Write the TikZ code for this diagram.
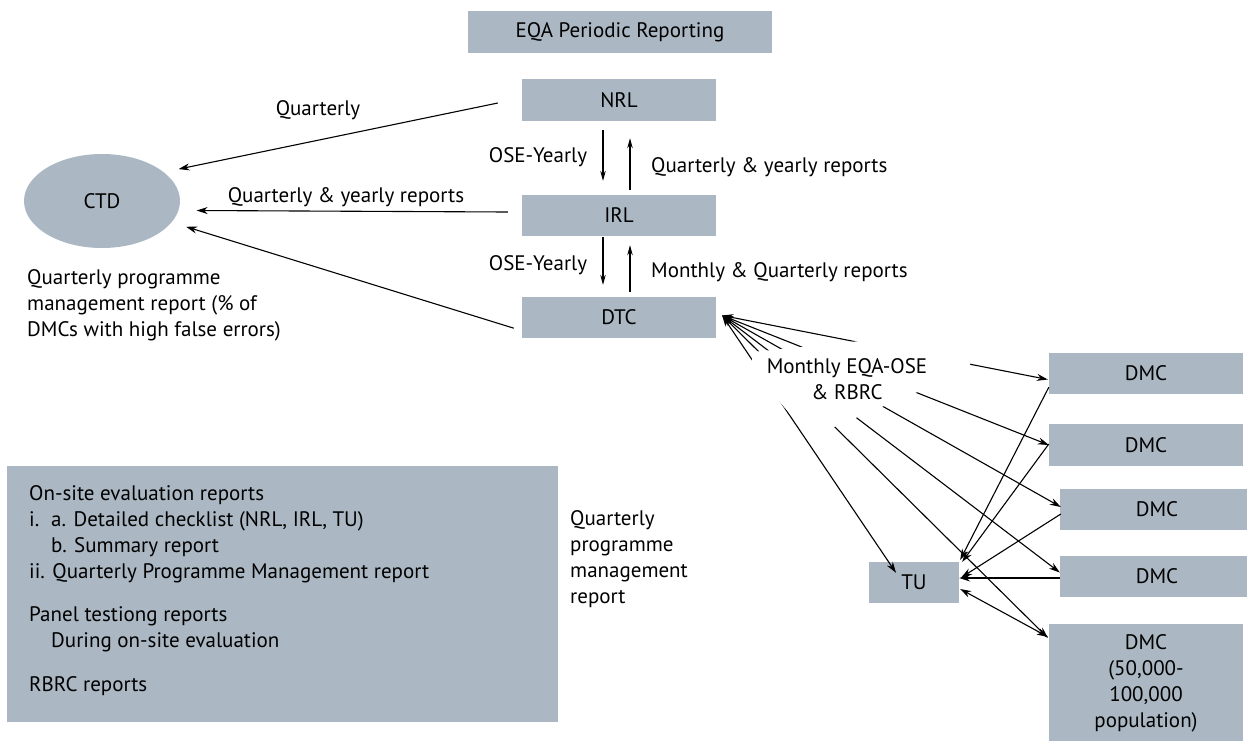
\documentclass[tikz,border=0pt]{standalone}
\usepackage{fontspec}
\setmainfont{PT Sans}
\usetikzlibrary{calc,shapes.geometric,arrows.meta}
\definecolor{boxfill}{RGB}{171,184,195}
\begin{document}
\begin{tikzpicture}[x=1pt,y=-1pt,
  every node/.style={font=\fontsize{21}{26}\selectfont},
  unit/.style={fill=boxfill, minimum width=194pt, minimum height=41pt, inner sep=0pt},
  conn/.style={line width=1.1pt, -{Stealth[length=11pt,width=7pt]}},
  both/.style={line width=1.1pt, {Stealth[length=11pt,width=7pt]}-{Stealth[length=11pt,width=7pt]}},
  small/.style={line width=1.1pt, -{Stealth[length=10pt,width=5.5pt]}},
  lbl/.style={inner sep=0pt}]
\useasboundingbox (0,0) rectangle (1247,740);

% reporting levels
\node[unit, minimum width=304pt, minimum height=42pt] (eqa) at (620,32) {EQA Periodic Reporting};
\node[unit, minimum height=42pt] (nrl) at (619,100) {NRL};
\node[unit] (irl) at (619,215.5) {IRL};
\node[unit] (dtc) at (619,317.5) {DTC};
\node[ellipse, fill=boxfill, minimum width=156pt, minimum height=94pt, inner sep=0pt] (ctd) at (102,201) {CTD};

% microscopy centres and treatment unit
\node[unit] (dmc1) at (1146,373.5) {DMC};
\node[unit, minimum height=42pt] (dmc2) at (1146,445) {DMC};
\node[unit] (dmc3) at (1157,509) {DMC};
\node[unit] (dmc4) at (1157,576.5) {DMC};
\node[unit, minimum height=118pt, align=center] (dmc5) at (1146,683) {DMC\\(50,000-\\100,000\\population)};
\node[unit, minimum width=90pt] (tu) at (914,582.5) {TU};

% report summary box
\node[fill=boxfill, minimum width=551pt, minimum height=256pt, inner sep=0pt] (sum) at (282.5,594) {};
\node[lbl, anchor=north west, align=left] (sumtxt) at (29,485) {On-site evaluation reports\\
\makebox[22pt][l]{i.}a. Detailed checklist (NRL, IRL, TU)\\
\hspace*{22pt}b. Summary report\\
ii. Quarterly Programme Management report\\[17pt]
Panel testiong reports\\
\hspace*{22pt}During on-site evaluation\\[18pt]
RBRC reports};
\node[lbl, anchor=north west, align=left] (qpm) at (570,510) {Quarterly\\programme\\management\\report};

% reports to CTD
\draw[conn, shorten >=15pt] ($(nrl.west)+(-24,3)$) -- (ctd.25);
\draw[conn, shorten >=18pt] ($(irl.west)+(-14,-3.5)$) -- (ctd.-7);
\draw[conn, shorten >=15pt] ($(dtc.south west)+(-8,-10)$) -- (ctd.-17);
\node[lbl] (lq) at (318,110) {Quarterly};
\node[lbl] (lqy) at (346,197) {Quarterly \& yearly reports};
\node[lbl, anchor=north west, align=left] (lctd) at (27,269) {Quarterly programme\\management report (\% of\\DMCs with high false errors)};

% vertical exchanges
\draw[small] ($(nrl.south)+(-16,9)$) -- ($(irl.north)+(-16,-14)$);
\draw[small] ($(irl.north)+(11,-5)$) -- ($(nrl.south)+(11,17)$);
\draw[small] ($(irl.south)+(-16,1)$) -- ($(dtc.north)+(-16,-12)$);
\draw[small] ($(dtc.north)+(11,-5)$) -- ($(irl.south)+(11,9)$);
\node[lbl] (ose1) at (538,157) {OSE-Yearly};
\node[lbl] (ose2) at (538,265) {OSE-Yearly};
\node[lbl, anchor=west] (lqy2) at (651,167) {Quarterly \& yearly reports};
\node[lbl, anchor=west] (lmq) at (651,272) {Monthly \& Quarterly reports};

% monthly EQA fan from DTC
\coordinate (fan) at ($(dtc.east)+(6,-2)$);
\draw[both] (fan) -- ($(dmc1.west)+(-1,6)$);
\draw[both] (fan) -- (dmc2.west);
\draw[both] (fan) -- ($(dmc3.west)+(1,-2)$);
\draw[both] (fan) -- ($(dmc4.west)+(0,-4)$);
\draw[both] (fan) -- ($(dmc5.north west)+(-1,14)$);
\draw[both] (fan) -- ($(tu.north)+(-18,11)$);
\fill[white] (752,352) -- (860,341) -- (970,362) -- (970,370) -- (810,437) -- (752,370) -- cycle;
\node[lbl, align=center] (lfan) at (847,379) {Monthly EQA-OSE\\\& RBRC};

% DMC feedback to TU
\draw[conn] ($(dmc1.south west)+(0,-7)$) -- ($(tu.north east)+(1,-2)$);
\draw[conn] ($(dmc2.west)+(0,-1)$) -- ($(tu.north east)+(3,0)$);
\draw[conn] ($(dmc3.west)+(1,5)$) -- ($(tu.east)+(2,-5)$);
\draw[conn] ($(dmc4.west)+(0,1.5)$) -- ($(tu.east)+(0,-4.5)$);
\draw[both] ($(tu.east)+(1,6.5)$) -- ($(dmc5.north west)+(-1,13)$);
\end{tikzpicture}
\end{document}
